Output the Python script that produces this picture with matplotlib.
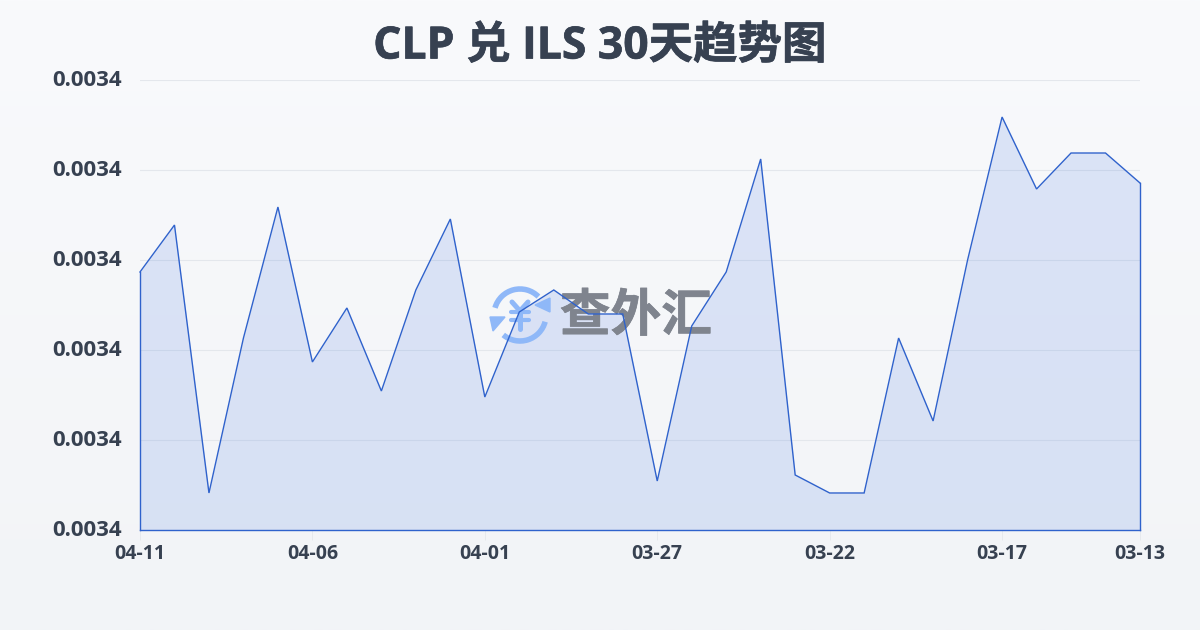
import numpy as np
import matplotlib
matplotlib.use("Agg")
import matplotlib.pyplot as plt
import matplotlib.patheffects as pe
from matplotlib.patches import Arc, Polygon
from matplotlib.colors import LinearSegmentedColormap
from matplotlib.transforms import ScaledTranslation

dates = ["04-11","04-10","04-09","04-08","04-07","04-06","04-05","04-04","04-03","04-02",
         "04-01","03-31","03-30","03-29","03-28","03-27","03-26","03-25","03-24","03-23",
         "03-22","03-21","03-20","03-19","03-18","03-17","03-16","03-15","03-14","03-13"]
rates = [0.00340587,0.00341422,0.00336658,0.00339413,0.00341742,0.00338987,0.00339947,0.00338471,
         0.00340267,0.00341529,0.00338364,0.00339876,0.00340267,0.00339840,0.00339840,0.00336871,
         0.00339627,0.00340587,0.00342596,0.00336978,0.00336658,0.00336658,0.00339413,0.00337938,
         0.00340800,0.00343342,0.00342062,0.00342702,0.00342702,0.00342169]
y_ticks = [0.00336,0.003376,0.003392,0.003408,0.003424,0.00344]
tick_every = 5
title = "CLP 兑 ILS 30天趋势图"
watermark = "查外汇"

plt.rcParams['font.family'] = ['Open Sans', 'Noto Sans CJK SC', 'DejaVu Sans']
W, H = 1200, 630
fig = plt.figure(figsize=(W/100, H/100), dpi=100)

bg = fig.add_axes([0,0,1,1], zorder=0)
bg.axis("off")
cmap = LinearSegmentedColormap.from_list("bg", ["#f9fafc", "#f2f4f7"])
bg.imshow(np.linspace(0,1,256).reshape(-1,1), aspect="auto", cmap=cmap, extent=[0,1,0,1])

rect = [140/W, 1-530/H, 1000/W, 450/H]
x = np.arange(len(rates))

ax = fig.add_axes(rect, zorder=1)
ax.patch.set_alpha(0)
ax.set_xlim(0, len(rates)-1)
ax.set_ylim(y_ticks[0], y_ticks[-1])
ax.grid(axis="y", color="#e4e7ec", lw=0.8, zorder=1)
ax.fill_between(x, rates, y_ticks[0], color="#3a6fe0", alpha=0.15, lw=0, zorder=2)
ax.set_yticks(y_ticks)
ax.set_yticklabels([f"{v:.4f}" for v in y_ticks])
ax.set_xticks(x[::tick_every].tolist()+[x[-1]])
ax.set_xticklabels(dates[::tick_every]+[dates[-1]])
for s in ax.spines.values():
    s.set_visible(False)
ax.tick_params(axis="y", length=0, pad=13, labelcolor="#374151", labelsize=16)
ax.tick_params(axis="x", length=7.2, width=0.6, color="#e4e7ec", pad=3, labelcolor="#374151", labelsize=14)
for t in ax.get_xticklabels()+ax.get_yticklabels():
    t.set_fontweight("bold")
shift_up = ScaledTranslation(0, 1.5/72, fig.dpi_scale_trans)
for t in ax.get_yticklabels():
    t.set_transform(t.get_transform() + shift_up)

fig.text(600/W, 1-47/H, title, ha="center", va="center", fontsize=32, fontweight="bold", color="#374151", zorder=3,
         path_effects=[pe.withStroke(linewidth=0.5, foreground="#374151")])

# watermark, in pixel coordinates, between the fill and the line
ov = fig.add_axes([0,0,1,1], zorder=2)
ov.axis("off"); ov.set_xlim(0,W); ov.set_ylim(H,0); ov.patch.set_alpha(0)
blue = "#8fb8f8"
cx, cy, r = 520, 315, 26
ov.add_patch(Arc((cx,cy),2*r,2*r,theta1=196,theta2=315,color=blue,lw=4))
ov.add_patch(Arc((cx,cy),2*r,2*r,theta1=15,theta2=130,color=blue,lw=4))
ov.add_patch(Polygon([[550,298],[550,312],[535,305]],color=blue))
ov.add_patch(Polygon([[490,317],[505,317],[493,331]],color=blue))
ov.plot([512,520,528],[302,311,302],color=blue,lw=3.6,solid_capstyle="round")
ov.plot([520,520],[311,329],color=blue,lw=3.6,solid_capstyle="round")
ov.plot([511,529],[312,312],color=blue,lw=3,solid_capstyle="round")
ov.plot([511,529],[320,320],color=blue,lw=3,solid_capstyle="round")
ov.text(636, 318, watermark, ha="center", va="center", fontsize=36.5, fontweight="bold", color="#7f848e",
        path_effects=[pe.withStroke(linewidth=0.5, foreground="#7f848e")])

# outline of the area on top of the watermark
top = fig.add_axes(rect, zorder=4)
top.axis("off"); top.patch.set_alpha(0)
top.set_xlim(ax.get_xlim()); top.set_ylim(ax.get_ylim())
line = "#2f62cc"
top.plot(x, rates, color=line, lw=1.0, solid_joinstyle="miter", clip_on=False)
top.plot([0,0],[y_ticks[0],rates[0]], color=line, lw=1.0, clip_on=False)
top.plot([x[-1],x[-1]],[y_ticks[0],rates[-1]], color=line, lw=1.0, clip_on=False)
top.plot([0,x[-1]],[y_ticks[0],y_ticks[0]], color=line, lw=1.0, clip_on=False)

fig.savefig("out.png", dpi=100)
